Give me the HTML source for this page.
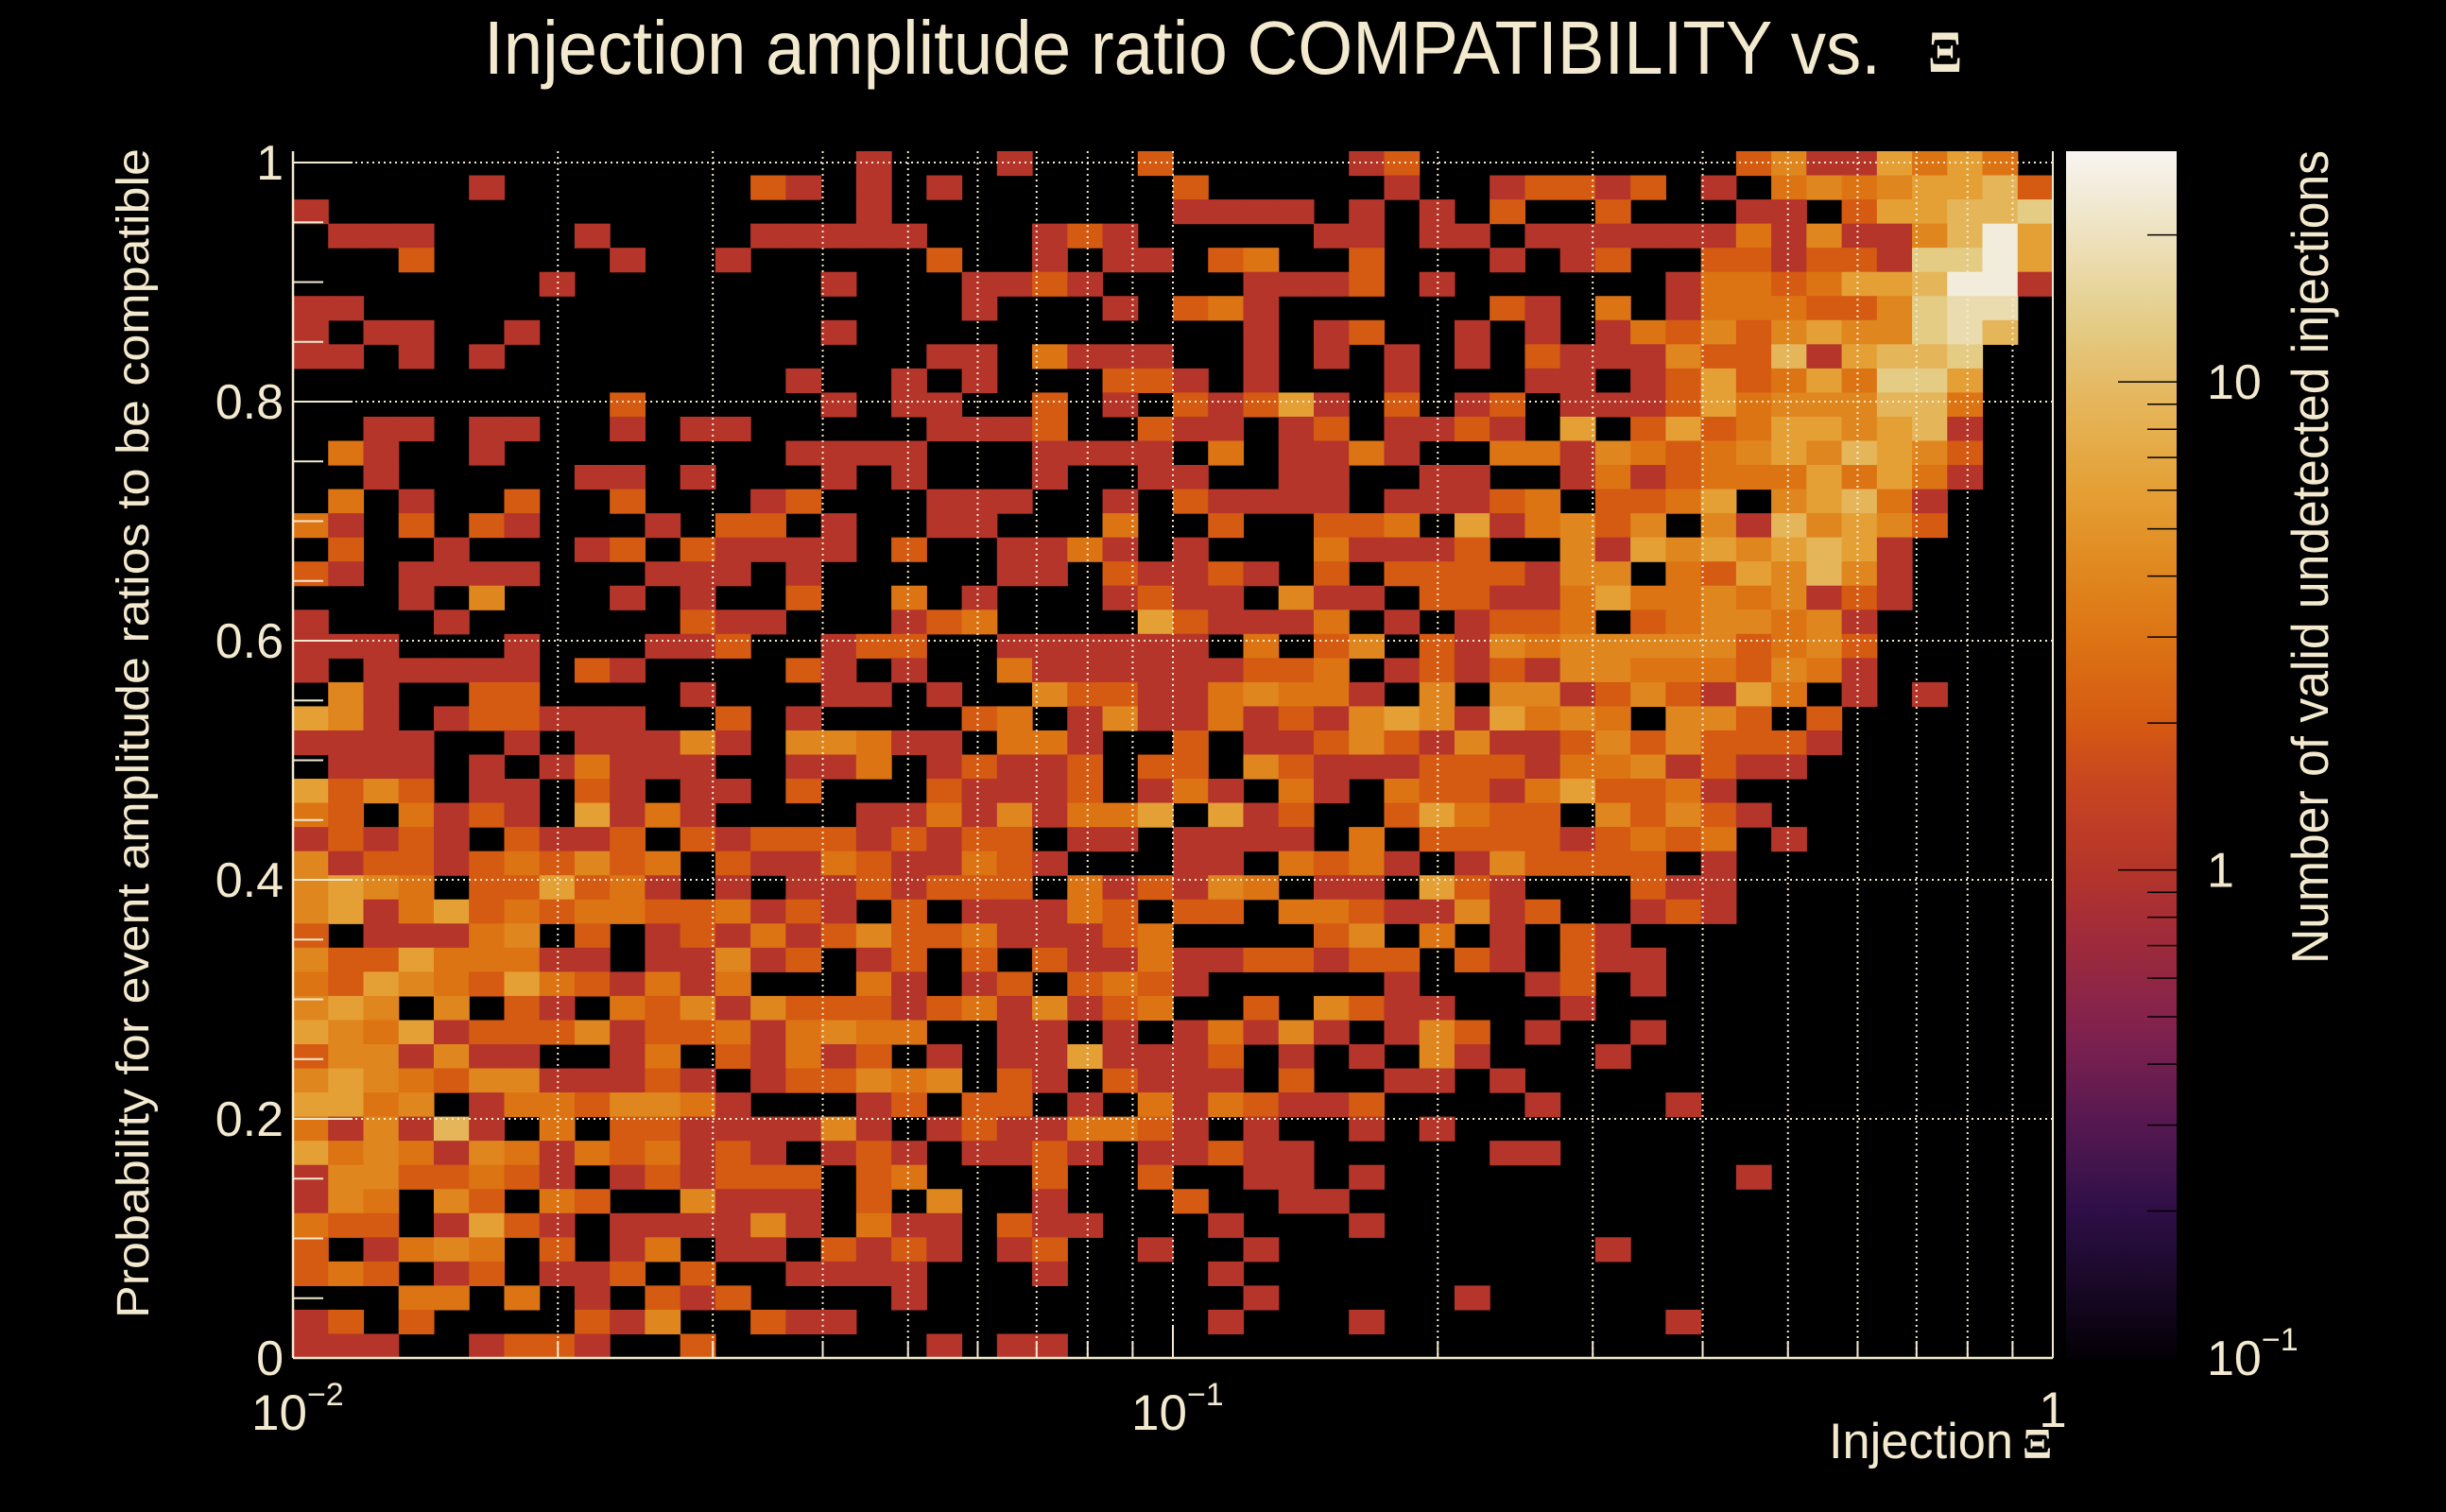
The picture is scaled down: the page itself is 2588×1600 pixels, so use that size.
<!DOCTYPE html>
<html>
<head>
<meta charset="utf-8">
<style>
html,body{margin:0;padding:0;background:#000;}
svg{display:block;}
</style>
</head>
<body>
<svg id="chart" width="2588" height="1600" viewBox="0 0 2588 1600" xmlns="http://www.w3.org/2000/svg" font-family="'Liberation Sans', 'DejaVu Sans', sans-serif">
  <defs>
    <linearGradient id="cbgrad" x1="0" y1="1" x2="0" y2="0"></linearGradient>
  </defs>
  <rect x="0" y="0" width="2588" height="1600" fill="#000"/>
  <g id="cells"></g>
  <g id="grid"></g>
  <g id="axes"></g>
  <g id="labels"></g>
  <rect id="colorbar" x="2186" y="160" width="117" height="1277" fill="url(#cbgrad)"/>
  <g id="cbticks"></g>

  <text x="512" y="78" font-size="80" fill="#f3e9cf" textLength="1478" lengthAdjust="spacingAndGlyphs">Injection amplitude ratio COMPATIBILITY vs.</text>
  <text x="2040" y="76" font-size="64" font-weight="bold" fill="#f3e9cf" font-family="'Liberation Serif', serif" textLength="36" lengthAdjust="spacingAndGlyphs">Ξ</text>

  <text transform="translate(157,157) rotate(-90)" text-anchor="end" font-size="48" fill="#f3e9cf" textLength="1238" lengthAdjust="spacingAndGlyphs">Probability for event amplitude ratios to be compatible</text>

  <text x="1935" y="1543" font-size="53" fill="#f3e9cf" textLength="195" lengthAdjust="spacingAndGlyphs">Injection</text>
  <text x="2140" y="1543" font-size="46" font-weight="bold" fill="#f3e9cf" font-family="'Liberation Serif', serif">Ξ</text>

  <text transform="translate(2463,159) rotate(-90)" text-anchor="end" font-size="55" fill="#f3e9cf" textLength="861" lengthAdjust="spacingAndGlyphs">Number of valid undetected injections</text>
</svg>
<script>
// ---- data: cell codes per row (top row first), columns 0-16, 17-33, 34-49 ----
const colsA = [
"................1",".....1.......21.1","1...............1",".111....1....1111","...2.....1..1....",
".......1.......1.","11...............","1.11..1........1.","11.1.1...........","..............1..",
".........2.....1.","..11.11..1.11....",".31..1........111","..1.....11.1...1.",".3.1..2..2...12..",
"31.2.21...1.22.1.",".2..1...12.21111.","21.1111...111.1..","...1.4...1.1..2..","1...1......211...",
"111...1...112..12","1.11111.21....21.",".41..22....1...11","541.122111..2.1..","1111..1.11141.443",
".111.1.13111..113","5242.11.21.11.2..","32.3121.5131....1","12121.2112.212221","41221232423.21132",
"4543.225231.1.112","4513523233223121.","2.11134.2.1213124","422533311.11412.1","3254325321313...3",
"454.4.21.32414222","54351222412231343","2441411..13.21312","454324411121.1224","5534.13324431...1",
"314161.3.22111141","53431431323121.12","14422321.121222.2","143.42.32..4111.2","322.1521.111141.3",
"2.1343.2.13.11.21","232.12.112.2..111","...33.3.1.212....","12.2....214..211.","111..1221..2....."
];
const colsB = [
"...1...2.....12..",".1......2.....1..","........1111.1.1.","1...121.....11.11",".2..1.11.23..2...",
"..1121....1112.1.","..1...1.231......","..........1.12..1",".11.3111..1.1.1.1","1.1...221.1...1..",
"11..2.1.21251.2.1",".1112..211.12.112","1...1111.3.1131..","1...1..11..11..11",".111..1.21111.111",
".11...3..2..223.5","2..1131.1...31112","...11.21121.2.222","3.1...1211.411.22","123....521113.1.1",
"2..111111.3.24.21","1..3111111223.121",".1..4221134331.4.","..23.141131214541","11.331..2.1124214",
".12112.22.4211122",".21112.131.31.322","13141335.512..253","2122.11.1111.3.22","11321...11.3231.1",
"1222.312143.11.52","2.11132.22.332114","22311123....24.3.","2.2.21131122122.2","1.12.2321.....1..",
"12314123..2.4211.","3..11.1.13141.142",".1.1151112.1.1.41","34.21.2111.2..11.","2.22.1.3132112...",
".12113321.1..1.1.","1.1121.11211.....","3...2..2..11.1...",".4..1...2..11....","11.211...1...1...",
"21.12..1..1......","1...1....1.......","1.........1.....1",".........1...1...",".1.11............"
];
const colsC = [
".......24115353.","12212.1.34345562","2..2...11.255667",".111111314114695","1.12..2212217795",
".....13323556991","21.3.1333224788.",".1.132424544786.",".2111422615667..",".11.1252353775..",
"2.111253444663..","1.5.2523554561..","33143234546542..","..131233353531..","23.2235.45631...",
"13424.4164542...","..4154545651....","2144.3254641....","113533434121....","223.2344341.....",
"43444442342.....","21443332431.....","441242153.1.1...","5343.442.2......","1124242221......",
"213341211.......","1352231.........","22.42421........","2212323.1.......","42222.1.........",
"1...211.........","12..121.........","1.21............","1.211...........",".12.1...........",
"..1.............",".1..1...........","...1............","1...............",".1...1..........",
"................","11..............",".......1........","................","................",
"...1............","................","................",".....1..........","................"
];
const levelCounts = [0, 1, 2, 3, 4, 6, 9, 13, 18, 25];
const yTickValues = [0, 0.2, 0.4, 0.6, 0.8, 1];
const yTickLabels = ["0", "0.2", "0.4", "0.6", "0.8", "1"];
const xDecadeValues = [0.01, 0.1, 1];
const xDecadeExponents = ["\u22122", "\u22121", ""];
const zTickValues = [0.1, 1, 10];
const zTickLabels = ["10", "1", "10"];
const zTickExponents = ["\u22121", "", ""];

// ---- geometry ----
const X0 = 310, X1 = 2172, Y0 = 1437, Y1 = 160;
const XMIN = 0.01, XMAX = 1, YMIN = 0, YMAX = 1.0095;
const NX = 50, NY = 50;
const ZMIN = 0.1, ZMAX = 29.7, CB_X = 2186, CB_W = 117;
const NS = "http://www.w3.org/2000/svg";
const TXT = "#f3e9cf";

function xScale(v) { return X0 + (Math.log10(v) - Math.log10(XMIN)) / (Math.log10(XMAX) - Math.log10(XMIN)) * (X1 - X0); }
function yScale(v) { return Y0 - (v - YMIN) / (YMAX - YMIN) * (Y0 - Y1); }
function zScale(v) { return Y0 - (Math.log10(v) - Math.log10(ZMIN)) / (Math.log10(ZMAX) - Math.log10(ZMIN)) * (Y0 - Y1); }

const palStops = [[0.1,'#050006'],[0.15,'#1c0a2c'],[0.2,'#2e0f48'],[0.3,'#551850'],[0.45,'#7d2150'],[0.7,'#9d2a3c'],[1,'#b5352a'],[1.5,'#c84520'],[2,'#d55a12'],[3,'#dd7414'],[4,'#e0861e'],[6,'#e4a035'],[9,'#e5b55a'],[13,'#e4cc85'],[18,'#ebdcb0'],[25,'#f2ecdc'],[30,'#f8f6f2']];
function hex2rgb(h) { return [parseInt(h.substr(1,2),16), parseInt(h.substr(3,2),16), parseInt(h.substr(5,2),16)]; }
function colorFor(v) {
  const lv = Math.log10(Math.max(palStops[0][0], Math.min(v, palStops[palStops.length-1][0])));
  for (let i = 0; i < palStops.length - 1; i++) {
    const a = Math.log10(palStops[i][0]), b = Math.log10(palStops[i+1][0]);
    if (lv >= a && lv <= b) {
      const t = (lv - a) / (b - a);
      const ca = hex2rgb(palStops[i][1]), cb = hex2rgb(palStops[i+1][1]);
      const c = ca.map((x, k) => Math.round(x + (cb[k] - x) * t));
      return 'rgb(' + c.join(',') + ')';
    }
  }
  return palStops[palStops.length-1][1];
}

function mk(tag, attrs, parent) {
  const el = document.createElementNS(NS, tag);
  for (const k in attrs) el.setAttribute(k, attrs[k]);
  parent.appendChild(el);
  return el;
}

// ---- cells ----
const cellsG = document.getElementById('cells');
const lxmin = Math.log10(XMIN), lxmax = Math.log10(XMAX);
for (let r = 0; r < NY; r++) {
  const row = (colsA[r].padEnd(17, '.').slice(0,17) + colsB[r].padEnd(17, '.').slice(0,17) + colsC[r].padEnd(16, '.').slice(0,16));
  const ybin = NY - 1 - r;
  const ylo = YMIN + ybin * (YMAX - YMIN) / NY;
  const yhi = YMIN + (ybin + 1) * (YMAX - YMIN) / NY;
  for (let c = 0; c < NX; c++) {
    const ch = row[c];
    if (ch === '.' ) continue;
    const count = levelCounts[parseInt(ch, 10)];
    if (!count) continue;
    const xlo = Math.pow(10, lxmin + c * (lxmax - lxmin) / NX);
    const xhi = Math.pow(10, lxmin + (c + 1) * (lxmax - lxmin) / NX);
    const px = xScale(xlo), pw = xScale(xhi) - px;
    const py = yScale(yhi), ph = yScale(ylo) - py;
    const rect = mk('rect', {x: px.toFixed(2), y: py.toFixed(2), width: (pw + 0.6).toFixed(2), height: (ph + 0.6).toFixed(2), fill: colorFor(count)}, cellsG);
    
    
  }
}

// ---- grid ----
const gridG = document.getElementById('grid');
yTickValues.forEach(v => {
  if (v <= 0) return;
  const l = mk('line', {x1: X0, x2: X1, y1: yScale(v), y2: yScale(v), stroke: '#f5ecd0', 'stroke-width': 2, 'stroke-dasharray': '2 4'}, gridG);
  
  
});
for (let d = 0; d < xDecadeValues.length - 1; d++) {
  for (let m = 1; m <= 9; m++) {
    if (d === 0 && m === 1) continue;
    const v = xDecadeValues[d] * m;
    const l = mk('line', {x1: xScale(v), x2: xScale(v), y1: Y1, y2: Y0, stroke: '#f5ecd0', 'stroke-width': 2, 'stroke-dasharray': '2 4'}, gridG);
    
    
  }
}

// ---- axes & ticks ----
const axesG = document.getElementById('axes');
const fl = mk('line', {x1: X0, x2: X0, y1: Y1, y2: Y0, stroke: TXT, 'stroke-width': 2.5}, axesG);


const fb = mk('line', {x1: X0, x2: X1, y1: Y0, y2: Y0, stroke: TXT, 'stroke-width': 2.5}, axesG);


const fr = mk('line', {x1: X1, x2: X1, y1: Y1, y2: Y0, stroke: TXT, 'stroke-width': 2}, axesG);


for (let i = 0; i <= 20; i++) {
  const v = i * 0.05;
  const major = (i % 4 === 0);
  const t = mk('line', {x1: X0, x2: X0 + (major ? 63 : 32), y1: yScale(v), y2: yScale(v), stroke: TXT, 'stroke-width': 2}, axesG);
  
  
}
for (let d = 0; d < xDecadeValues.length; d++) {
  for (let m = 1; m <= 9; m++) {
    const v = xDecadeValues[d] * m;
    if (v > XMAX * 1.0001) break;
    const major = (m === 1);
    const t = mk('line', {x1: xScale(v), x2: xScale(v), y1: Y0, y2: Y0 - (major ? 35 : 18), stroke: TXT, 'stroke-width': 2}, axesG);
    
    
  }
}

// ---- tick labels ----
const labG = document.getElementById('labels');
yTickValues.forEach((v, i) => {
  const t = mk('text', {x: 300, y: yScale(v) + 18, 'font-size': 52, fill: TXT, 'text-anchor': 'end'}, labG);
  t.textContent = yTickLabels[i];
  
  
});
xDecadeValues.forEach((v, i) => {
  const t = mk('text', {'font-size': 53, fill: TXT}, labG);
  
  
  if (xDecadeExponents[i] === "") {
    t.setAttribute('x', xScale(v));
    t.setAttribute('y', 1510);
    t.setAttribute('text-anchor', 'middle');
    t.textContent = "1";
  } else {
    t.setAttribute('x', xScale(v) - 44);
    t.setAttribute('y', 1513);
    const a = mk('tspan', {}, t);
    a.textContent = "10";
    const b = mk('tspan', {'font-size': 34, dy: -26}, t);
    b.textContent = xDecadeExponents[i];
  }
});

// ---- colorbar ----
const grad = document.getElementById('cbgrad');
for (let i = 0; i <= 60; i++) {
  const lv = Math.log10(ZMIN) + i / 60 * (Math.log10(ZMAX) - Math.log10(ZMIN));
  mk('stop', {offset: (i / 60).toFixed(4), 'stop-color': colorFor(Math.pow(10, lv))}, grad);
}
const cbG = document.getElementById('cbticks');
for (let d = -1; d <= 1; d++) {
  for (let m = 1; m <= 9; m++) {
    const v = Math.pow(10, d) * m;
    if (v < ZMIN || v > ZMAX) continue;
    const major = (m === 1);
    const t = mk('line', {x1: CB_X + CB_W - (major ? 62 : 31), x2: CB_X + CB_W, y1: zScale(v), y2: zScale(v), stroke: '#000', 'stroke-width': 1.5}, cbG);
    
    
  }
}
zTickValues.forEach((v, i) => {
  const t = mk('text', {x: 2335, y: Math.min(zScale(v) + 18, 1465), 'font-size': 52, fill: TXT}, cbG);
  
  
  const a = mk('tspan', {}, t);
  a.textContent = zTickLabels[i];
  if (zTickExponents[i]) {
    const b = mk('tspan', {'font-size': 34, dy: -26}, t);
    b.textContent = zTickExponents[i];
  }
});
</script>
</body>
</html>
